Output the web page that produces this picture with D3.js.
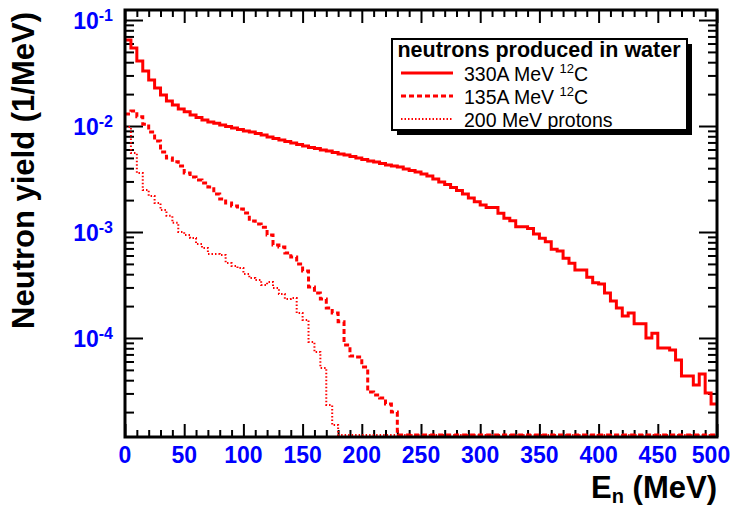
<!DOCTYPE html>
<html>
<head>
<meta charset="utf-8">
<script src="https://cdn.jsdelivr.net/npm/d3@7"></script>
<style>
  body { margin: 0; background: #fff; }
  svg { display: block; font-family: "Liberation Sans", Arial, Helvetica, sans-serif; }
</style>
</head>
<body>
<svg id="chart" width="740" height="508"></svg>
<script>
// neutron spectra, 5 MeV bins from 0 to 500 MeV (1/MeV), 0 = empty bin
var binWidth = 5;

var yield330 = [
  0.0648, 0.0544, 0.0410, 0.0330, 0.0272, 0.0228, 0.0196, 0.0172, 0.0158, 0.0145,
  0.0136, 0.0127, 0.0120, 0.0114, 0.0109, 0.0106, 0.0102, 0.00989, 0.00957, 0.00927,
  0.00897, 0.00878, 0.0085, 0.00823, 0.00787, 0.00762, 0.00738, 0.00714, 0.00691, 0.00669,
  0.00648, 0.00627, 0.00613, 0.00594, 0.00581, 0.00562, 0.00544, 0.00532, 0.00516, 0.00499,
  0.00483, 0.00467, 0.00457, 0.00443, 0.00429, 0.00419, 0.0041, 0.00393, 0.0038, 0.00368,
  0.00352, 0.00337, 0.00316, 0.00296, 0.00281, 0.00263, 0.00246, 0.00228, 0.00209, 0.00193,
  0.0018, 0.0017, 0.0017, 0.0015, 0.00135, 0.00128, 0.00112, 0.00112, 0.00108, 0.000957,
  0.000872, 0.00081, 0.000687, 0.000662, 0.000565, 0.000507, 0.000438, 0.000438, 0.000374, 0.000332,
  0.000323, 0.000266, 0.000223, 0.000192, 0.000161, 0.000172, 0.000136, 0.000136, 0.0001, 0.000111,
  0.0000805, 0.0000805, 0.000077, 0.000062, 0.0000438, 0.0000438, 0.000036, 0.0000457, 0.0000303, 0.0000238
];

var yield135 = [
  0.013, 0.01385, 0.0122, 0.0104, 0.00878, 0.00722, 0.00569, 0.00499, 0.0046, 0.00419,
  0.0036, 0.0033, 0.00309, 0.0029, 0.00266, 0.00228, 0.00205, 0.00188, 0.00176, 0.00165,
  0.00151, 0.00127, 0.00119, 0.00111, 0.000937, 0.000754, 0.000722, 0.000634, 0.000581, 0.000499,
  0.000429, 0.000303, 0.000266, 0.000233, 0.000192, 0.000172, 0.000142, 0.0000859, 0.0000676, 0.0000662,
  0.0000532, 0.0000309, 0.000029, 0.0000272, 0.0000238, 0.00002, 0, 0, 0, 0,
  0, 0, 0, 0, 0, 0, 0, 0, 0, 0,
  0, 0, 0, 0, 0, 0, 0, 0, 0, 0,
  0, 0, 0, 0, 0, 0, 0, 0, 0, 0,
  0, 0, 0, 0, 0, 0, 0, 0, 0, 0,
  0, 0, 0, 0, 0, 0, 0, 0, 0, 0
];

var yieldProton = [
  0.00979, 0.00556, 0.0036, 0.00249, 0.00219, 0.00188, 0.00161, 0.00142, 0.00122, 0.001,
  0.000937, 0.000878, 0.00077, 0.000706, 0.00062, 0.00062, 0.000607, 0.00051, 0.000478, 0.000457,
  0.000402, 0.000368, 0.000352, 0.000316, 0.000337, 0.000296, 0.00026, 0.000233, 0.000238, 0.000172,
  0.000148, 0.0000917, 0.0000738, 0.0000521, 0.0000233, 0.0000151, 0, 0, 0, 0,
  0, 0, 0, 0, 0, 0, 0, 0, 0, 0,
  0, 0, 0, 0, 0, 0, 0, 0, 0, 0,
  0, 0, 0, 0, 0, 0, 0, 0, 0, 0,
  0, 0, 0, 0, 0, 0, 0, 0, 0, 0,
  0, 0, 0, 0, 0, 0, 0, 0, 0, 0,
  0, 0, 0, 0, 0, 0, 0, 0, 0, 0
];

var xTicks = [0, 50, 100, 150, 200, 250, 300, 350, 400, 450, 500];
var yDecades = [1e-1, 1e-2, 1e-3, 1e-4];
var yExponents = ["-1", "-2", "-3", "-4"];
var legendTitle = "neutrons produced in water";
var legendNames = [["330A MeV ", "12", "C"], ["135A MeV ", "12", "C"], ["200 MeV protons", "", ""]];

var svg = d3.select("#chart"),
  margin = {top: 10, right: 23, bottom: 71, left: 125},
  width = +svg.attr("width") - margin.left - margin.right,
  height = +svg.attr("height") - margin.top - margin.bottom,
  yMin = 1.164e-5,
  yMax = 0.1243,
  blue = "#0000ff",
  red = "#ff0000";

var x = d3.scaleLinear().domain([0, 500]).range([0, width]);
var y = d3.scaleLog().domain([yMin, yMax]).range([height, 0]);

var g = svg.append("g").attr("transform", "translate(" + margin.left + "," + margin.top + ")");

g.append("defs").append("clipPath")
  .attr("id", "clip")
  .append("rect")
  .attr("width", width)
  .attr("height", height);

// tick positions
var xMinor = d3.range(0, 501, 10).filter(function(d) { return d % 50 !== 0; });
var yMinor = [];
[-5, -4, -3, -2, -1].forEach(function(p) {
  for (var k = 2; k <= 9; k++) {
    var v = k * Math.pow(10, p);
    if (v > yMin && v < yMax) yMinor.push(v);
  }
});

function styleTicks(sel) {
  sel.select(".domain").remove();
  sel.selectAll("line").attr("stroke", "#000").attr("stroke-width", 2);
  sel.selectAll("text").remove();
}

// ticks on all four sides, pointing inward
g.append("g").attr("transform", "translate(0," + height + ")")
  .call(d3.axisBottom(x).tickValues(xTicks).tickSize(-13)).call(styleTicks);
g.append("g").attr("transform", "translate(0," + height + ")")
  .call(d3.axisBottom(x).tickValues(xMinor).tickSize(-7)).call(styleTicks);
g.append("g")
  .call(d3.axisTop(x).tickValues(xTicks).tickSize(-13)).call(styleTicks);
g.append("g")
  .call(d3.axisTop(x).tickValues(xMinor).tickSize(-7)).call(styleTicks);
g.append("g")
  .call(d3.axisLeft(y).tickValues(yDecades).tickSize(-18)).call(styleTicks);
g.append("g")
  .call(d3.axisLeft(y).tickValues(yMinor).tickSize(-9)).call(styleTicks);
g.append("g").attr("transform", "translate(" + width + ",0)")
  .call(d3.axisRight(y).tickValues(yDecades).tickSize(-18)).call(styleTicks);
g.append("g").attr("transform", "translate(" + width + ",0)")
  .call(d3.axisRight(y).tickValues(yMinor).tickSize(-9)).call(styleTicks);

// histograms
function histPoints(vals) {
  var pts = vals.map(function(v, i) { return {e: i * binWidth, v: v}; });
  pts.push({e: vals.length * binWidth, v: vals[vals.length - 1]});
  return pts;
}

var line = d3.line()
  .x(function(d) { return x(d.e); })
  .y(function(d) { return d.v > 0 ? y(d.v) : y(yMin) - 2; })
  .curve(d3.curveStepAfter);

var series = [
  {vals: yieldProton, width: 2, dash: "1.5,2"},
  {vals: yield135, width: 3, dash: "5,3"},
  {vals: yield330, width: 3, dash: null}
];

var plot = g.append("g").attr("clip-path", "url(#clip)");
series.forEach(function(s) {
  plot.append("path")
    .datum(histPoints(s.vals))
    .attr("fill", "none")
    .attr("stroke", red)
    .attr("stroke-width", s.width)
    .attr("stroke-dasharray", s.dash)
    .attr("d", line);
});

// frame
g.append("rect")
  .attr("width", width)
  .attr("height", height)
  .attr("fill", "none")
  .attr("stroke", "#000")
  .attr("stroke-width", 3);

// tick labels (last one nudged left so it stays inside the page)
g.selectAll(".xlab")
  .data(xTicks)
  .enter().append("text")
  .attr("class", "xlab")
  .attr("x", function(d, i) { return x(d) - (i === xTicks.length - 1 ? 6 : 0); })
  .attr("y", height + 26)
  .attr("text-anchor", "middle")
  .attr("fill", blue)
  .attr("font-size", 23)
  .attr("font-weight", "bold")
  .text(function(d) { return d; });

var ylab = g.selectAll(".ylab")
  .data(yDecades)
  .enter().append("text")
  .attr("class", "ylab")
  .attr("x", -12)
  .attr("y", function(d) { return y(d) + 9; })
  .attr("text-anchor", "end")
  .attr("fill", blue)
  .attr("font-size", 23)
  .attr("font-weight", "bold");
ylab.append("tspan").text("10");
ylab.append("tspan")
  .attr("dy", -8)
  .attr("font-size", 16)
  .text(function(d, i) { return yExponents[i]; });

// axis titles
svg.append("text")
  .attr("transform", "translate(34,12) rotate(-90)")
  .attr("text-anchor", "end")
  .attr("font-size", 31)
  .attr("font-weight", "bold")
  .text("Neutron yield (1/MeV)");

var xt = svg.append("text")
  .attr("x", margin.left + width)
  .attr("y", 498)
  .attr("text-anchor", "end")
  .attr("font-size", 31)
  .attr("font-weight", "bold");
xt.append("tspan").text("E");
xt.append("tspan").attr("font-size", 20).attr("dy", 5).text("n");
xt.append("tspan").attr("dy", -5).text(" (MeV)");

// legend
var leg = svg.append("g").attr("transform", "translate(392,39)");
leg.append("rect").attr("x", 5).attr("y", 5).attr("width", 295).attr("height", 91).attr("fill", "#000");
leg.append("rect").attr("width", 295).attr("height", 91)
  .attr("fill", "#fff").attr("stroke", "#000").attr("stroke-width", 2);
leg.append("text")
  .attr("x", 147)
  .attr("y", 18)
  .attr("text-anchor", "middle")
  .attr("font-size", 21.5)
  .attr("font-weight", "bold")
  .text(legendTitle);

var rows = leg.selectAll(".row")
  .data(series.slice().reverse())
  .enter().append("g")
  .attr("class", "row")
  .attr("transform", function(d, i) { return "translate(0," + (34 + i * 23) + ")"; });
rows.append("line")
  .attr("x1", 9).attr("x2", 61)
  .attr("stroke", red)
  .attr("stroke-width", function(d) { return d.width; })
  .attr("stroke-dasharray", function(d) { return d.dash; });
var rt = rows.append("text")
  .attr("x", 72)
  .attr("y", 8)
  .attr("font-size", 19.5);
rt.append("tspan").text(function(d, i) { return legendNames[i][0]; });
rt.append("tspan").attr("dy", -8).attr("font-size", 13).text(function(d, i) { return legendNames[i][1]; });
rt.append("tspan").attr("dy", 8).text(function(d, i) { return legendNames[i][2]; });
</script>
</body>
</html>
